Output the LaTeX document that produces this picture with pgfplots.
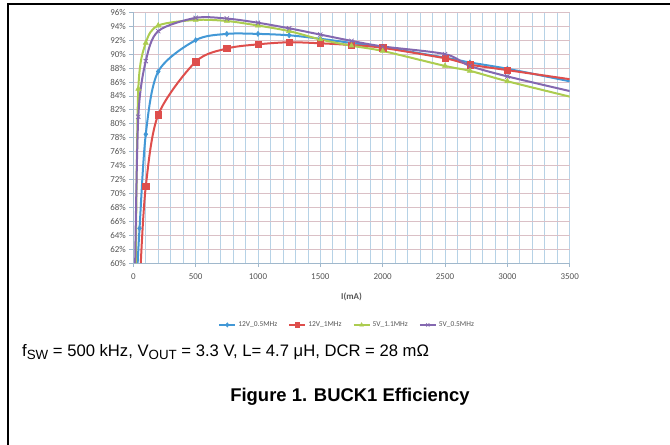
\documentclass[border=0pt]{standalone}
\usepackage{pgfplots}
\pgfplotsset{compat=1.18}
\usepackage{fontspec}
\setmainfont{Carlito}
\newfontfamily\capfont{Liberation Sans}

\definecolor{cblue}{RGB}{66,152,214}
\definecolor{cred}{RGB}{222,78,76}
\definecolor{cgreen}{RGB}{172,204,80}
\definecolor{cpurple}{RGB}{132,104,176}
\definecolor{vgrid}{RGB}{182,210,230}
\definecolor{hgrid}{RGB}{218,192,198}
\definecolor{axisgray}{RGB}{160,184,204}
\definecolor{labgray}{RGB}{85,85,85}

\begin{document}
\begin{tikzpicture}[x=1bp,y=1bp]
\path[use as bounding box] (0,0) rectangle (670,445);
\draw[line width=1.5bp] (8,0) -- (8,441) -- (670,441);

\begin{axis}[
    at={(133.3bp,181.8bp)}, anchor=south west,
    scale only axis,
    width=436.4bp, height=250.9bp,
    xmin=0, xmax=3500, ymin=60, ymax=96,
    xtick={0,500,...,3500},
    minor xtick={0,100,...,3500},
    ytick={60,62,...,96},
    grid=both,
    major grid style={vgrid, line width=0.7bp},
    minor grid style={vgrid, line width=0.7bp},
    y grid style={hgrid, line width=0.8bp},
    axis lines*=left,
    axis line style={axisgray, line width=0.8bp},
    tick style={axisgray, line width=0.8bp},
    tick align=outside,
    major tick length=4bp,
    minor tick length=0bp,
    /pgf/number format/assume math mode=true,
    /pgf/number format/1000 sep={},
    yticklabel={\pgfmathprintnumber{\tick}\%},
    ticklabel style={font=\fontsize{9}{10}\selectfont, text=labgray},
    xticklabel style={yshift=-3bp},
    xlabel={\textbf{I(mA)}},
    xlabel style={at={(axis description cs:0.5,-0.1335)}, anchor=center,
        font=\fontsize{9}{10}\selectfont, text=labgray},
    legend style={at={(axis description cs:0.49,-0.246)}, anchor=center,
        draw=none, fill=none, legend columns=-1,
        font=\fontsize{7.5}{8}\selectfont, text=labgray,
        /tikz/every even column/.append style={column sep=9bp}},
    legend cell align=left,
    legend image code/.code={\draw[#1, mark indices={2}, mark size=2.2bp]
        plot coordinates {(0bp,0bp) (8bp,0bp) (16bp,0bp)};},
    every axis plot/.append style={line width=2bp, smooth, tension=0.5},
]
\addplot[cblue, mark=diamond*, mark size=2.6bp, mark indices={2,...,14},
    mark options={line width=0.5bp}] coordinates {
(35,60) (50,65) (100,78.5) (200,87.5) (500,92) (750,92.9) (1000,92.9)
(1250,92.7) (1500,92.2) (1750,91.6) (2000,91.0) (2500,89.5) (2700,88.8)
(3000,87.9) (3500,86.1)
};
\addplot[cred, mark=square*, mark size=3.2bp, mark indices={2,...,13},
    mark options={line width=0.5bp}] coordinates {
(60,60) (100,71) (200,81.3) (500,88.9) (750,90.8) (1000,91.4) (1250,91.7)
(1500,91.55) (1750,91.3) (2000,90.9) (2500,89.4) (2700,88.5) (3000,87.7)
(3500,86.4)
};
\addplot[cgreen, mark=triangle*, mark size=3bp, mark indices={2,...,14},
    mark options={line width=0.5bp}] coordinates {
(20,60) (40,85) (100,91.6) (200,94.1) (500,94.9) (750,94.75) (1000,94.1)
(1250,93.3) (1500,92.1) (1750,91.2) (2000,90.45) (2500,88.3) (2700,87.6)
(3000,86.1) (3500,83.9)
};
\addplot[cpurple, mark=x, mark size=3bp, mark indices={2,...,14},
    mark options={line width=0.8bp}] coordinates {
(15,60) (40,81) (100,89) (200,93.3) (500,95.2) (750,95.1) (1000,94.5)
(1250,93.7) (1500,92.8) (1750,91.9) (2000,91.1) (2500,90.0) (2700,88.3)
(3000,86.8) (3500,84.7)
};
\legend{12V\_0.5MHz, 12V\_1MHz, 5V\_1.1MHz, 5V\_0.5MHz}
\end{axis}

\node[anchor=west, inner sep=0pt, font=\capfont\fontsize{16.7}{20}\selectfont]
  at (22,93) {f\raisebox{-0.22em}{\fontsize{13.4}{14}\selectfont SW} = 500 kHz, V\raisebox{-0.22em}{\fontsize{13.4}{14}\selectfont OUT} = 3.3 V, L= 4.7 μH, DCR = 28 mΩ};
\node[anchor=center, inner sep=0pt, font=\capfont\bfseries\fontsize{18.5}{22}\selectfont]
  at (350,48) {Figure 1. BUCK1 Efficiency};
\end{tikzpicture}
\end{document}
